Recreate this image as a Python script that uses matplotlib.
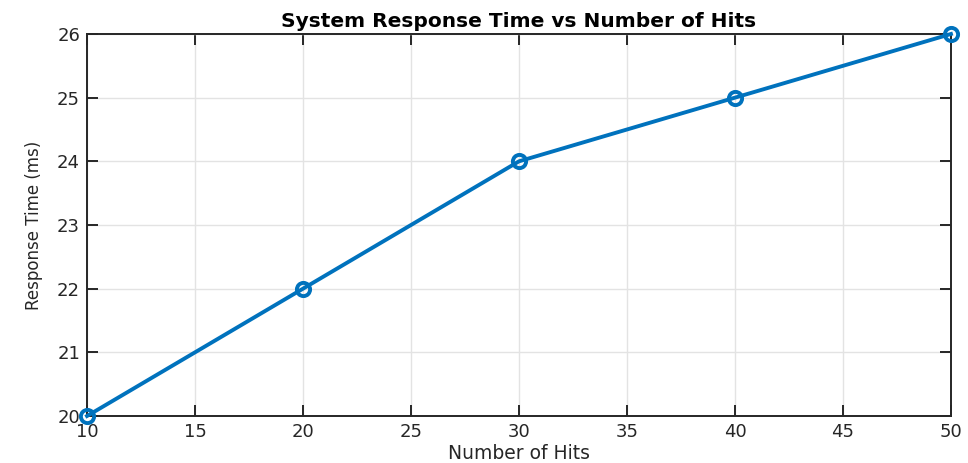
import matplotlib
matplotlib.use("Agg")
import matplotlib.pyplot as plt

hits = [10, 20, 30, 40, 50]
response_ms = [20, 22, 24, 25, 26]
x_ticks = [10, 15, 20, 25, 30, 35, 40, 45, 50]
y_ticks = [20, 21, 22, 23, 24, 25, 26]

plt.rcParams['font.family'] = ['DejaVu Sans']

fig = plt.figure(figsize=(9.68, 4.63), dpi=100)
ax = fig.add_axes([0.0899, 0.1015, 0.8925, 0.8251])

ax.plot(hits, response_ms, color='#0072BD', linewidth=2.8, marker='o',
        markersize=9.5, markerfacecolor='none', markeredgewidth=2.8,
        markeredgecolor='#0072BD', clip_on=False, zorder=3)

ax.set_xlim(10, 50)
ax.set_ylim(20, 26)
ax.set_xticks(x_ticks)
ax.set_yticks(y_ticks)
ax.grid(True, color='#e3e3e3', linewidth=1.0)
ax.set_axisbelow(True)

ax.tick_params(direction='in', length=8, width=1.4, top=True, right=True,
               labelsize=13, colors='#262626', pad=5)
for s in ax.spines.values():
    s.set_linewidth(1.4)
    s.set_color('#262626')

ax.set_title('System Response Time vs Number of Hits', fontsize=14.5,
             fontweight='bold', pad=5)
ax.set_xlabel('Number of Hits', fontsize=13.5, color='#262626', labelpad=2)
ax.set_ylabel('Response Time (ms)', fontsize=12, color='#262626', labelpad=10)

fig.savefig('out.png', dpi=100)
